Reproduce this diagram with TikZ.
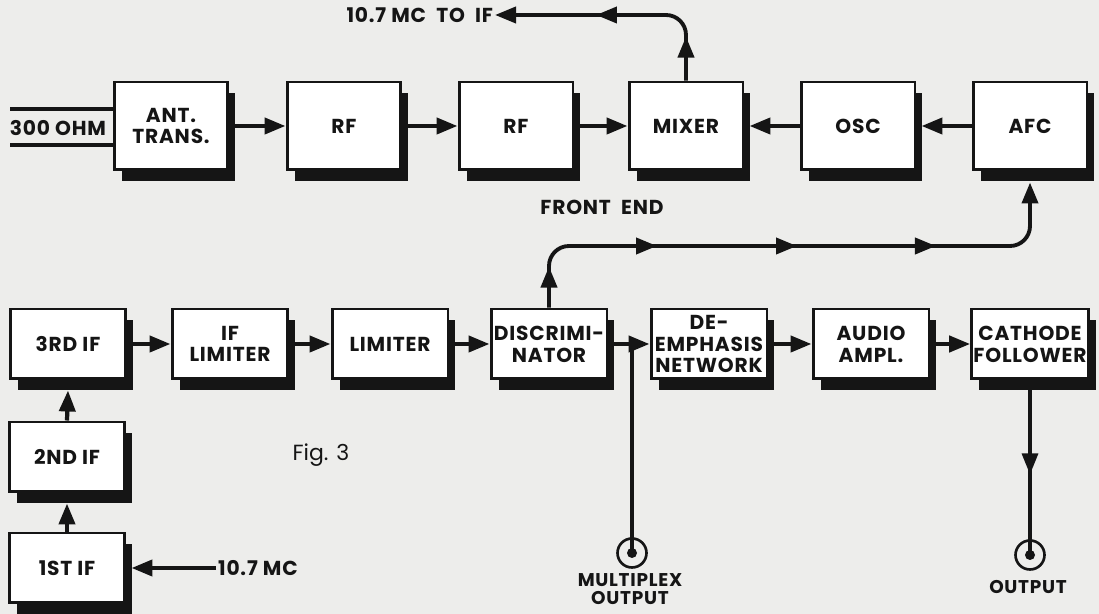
\documentclass[tikz,border=0pt]{standalone}
\usepackage{fontspec}
\usepackage{xcolor}
\usepackage{tikz}
\usetikzlibrary{arrows.meta,shadows,decorations.markings}
\newfontfamily\blkfont{Poppins}[LetterSpace=4]
\newfontfamily\figfont{Poppins}
\definecolor{paper}{HTML}{EDEDEB}
\definecolor{ink}{HTML}{151515}

\begin{document}
\begin{tikzpicture}[x=0.02cm,y=-0.02cm,
  >={Triangle[length=0.42cm,width=0.32cm]},
  blk/.style={draw=ink,fill=white,line width=1.7pt,minimum width=2.28cm,minimum height=1.76cm,inner sep=1pt,align=center,font=\blkfont\bfseries\fontsize{11.5}{12.4}\selectfont,text=ink,drop shadow={shadow xshift=0.15cm,shadow yshift=-0.22cm,fill=ink,opacity=1}},
  lowblk/.style={blk,minimum width=2.32cm,minimum height=1.4cm},
  lbl/.style={font=\blkfont\bfseries\fontsize{11.5}{12.4}\selectfont,text=ink,inner sep=1pt,align=center},
  jacklbl/.style={lbl,font=\blkfont\bfseries\fontsize{10.5}{10.5}\selectfont},
  arr/.style={draw=ink,line width=2.4pt,->},
  fb/.style={draw=ink,line width=2.2pt,rounded corners=0.4cm},
  wire/.style={draw=ink,line width=1.8pt},
  jack/.style={circle,draw=ink,fill=paper,line width=1.5pt,minimum size=0.58cm,inner sep=0pt}]
\fill[paper] (0,0) rectangle (1099,614);
\useasboundingbox (0,0) rectangle (1099,614);
\node[blk] (ant) at (171,126) {ANT.\\TRANS.};
\node[blk] (rfa) at (344,126) {RF};
\node[blk] (rfb) at (516,126) {RF};
\node[blk] (mix) at (686,126) {MIXER};
\node[blk] (osc) at (858,126) {OSC};
\node[blk] (afc) at (1030,126) {AFC};
\node[lowblk] (ifc) at (68,344) {3RD IF};
\node[lowblk] (iflim) at (230,344) {IF\\LIMITER};
\node[lowblk] (lim) at (390,344) {LIMITER};
\node[lowblk] (disc) at (549,344) {DISCRIMI-\\NATOR};
\node[lowblk] (deemph) at (709,344) {DE-\\EMPHASIS\\NETWORK};
\node[lowblk] (audio) at (871,344) {AUDIO\\AMPL.};
\node[lowblk] (cath) at (1030,344) {CATHODE\\FOLLOWER};
\node[lowblk] (ifb) at (67,457) {2ND IF};
\node[lowblk] (ifa) at (67,568) {1ST IF};
\node[jack] (mpx) at (632,553) {};
\node[jack] (out) at (1030,555) {};
\node[lbl] (ohm) at (58,128) {300\ OHM};
\node[lbl,anchor=east] (tf) at (495,15) {10.7 MC\ \ TO\ \ IF};
\node[lbl] (fe) at (602,207) {FRONT\ \ END};
\node[lbl,anchor=west] (mc) at (216,568) {10.7 MC};
\node[jacklbl] (mpxlbl) at (630,589) {MULTIPLEX\\OUTPUT};
\node[jacklbl] (outlbl) at (1028,587) {OUTPUT};
\node[font=\figfont\fontsize{12.5}{14}\selectfont,text=ink] (fig) at (321,455) {Fig. 3};
\coordinate (wa) at (10,109);
\coordinate (wb) at (10,145);
\coordinate (fbrow) at (0,246);
\draw[wire] (wa) -- (ant.west |- wa);
\draw[wire] (wb) -- (ant.west |- wb);
\draw[arr] (ant.east) -- (rfa.west);
\draw[arr] (rfa.east) -- (rfb.west);
\draw[arr] (rfb.east) -- (mix.west);
\draw[arr] (osc.west) -- ([xshift=0.1cm]mix.east);
\draw[arr] (afc.west) -- ([xshift=0.1cm]osc.east);
\draw[fb,->,postaction=decorate,decoration={markings,
  mark=at position 0.88cm with {\arrow{>}},
  mark=at position 2.94cm with {\arrow{>}}}]
  (mix.north) -- (mix.north |- tf.east) -- (tf.east);
\draw[fb,->,postaction=decorate,decoration={markings,
  mark=at position 0.82cm with {\arrow{>}},
  mark=at position 3.22cm with {\arrow{>}},
  mark=at position 6.02cm with {\arrow{>}},
  mark=at position 8.8cm with {\arrow{>}}}]
  (disc.north) -- (disc.north |- fbrow) -- (afc.south |- fbrow) -- ([yshift=-0.22cm]afc.south);
\draw[arr] (mc.west) -- ([xshift=0.1cm]ifa.east);
\draw[arr] (ifa.north) -- ([yshift=-0.2cm]ifb.south);
\draw[arr] (ifb.north) -- ([yshift=-0.2cm]ifc.south);
\draw[arr] (ifc.east) -- (iflim.west);
\draw[arr] (iflim.east) -- (lim.west);
\draw[arr] (lim.east) -- (disc.west);
\draw[arr] (disc.east) -- (deemph.west);
\draw[arr] (deemph.east) -- (audio.west);
\draw[arr] (audio.east) -- (cath.west);
\draw[wire] (disc.east -| mpx) -- (mpx.center);
\fill[ink] (mpx) circle (0.1cm);
\draw[wire,postaction=decorate,decoration={markings,
  mark=at position 1.88cm with {\arrow{>}}}]
  (cath.south) -- (out.center);
\fill[ink] (out) circle (0.1cm);
\end{tikzpicture}
\end{document}
